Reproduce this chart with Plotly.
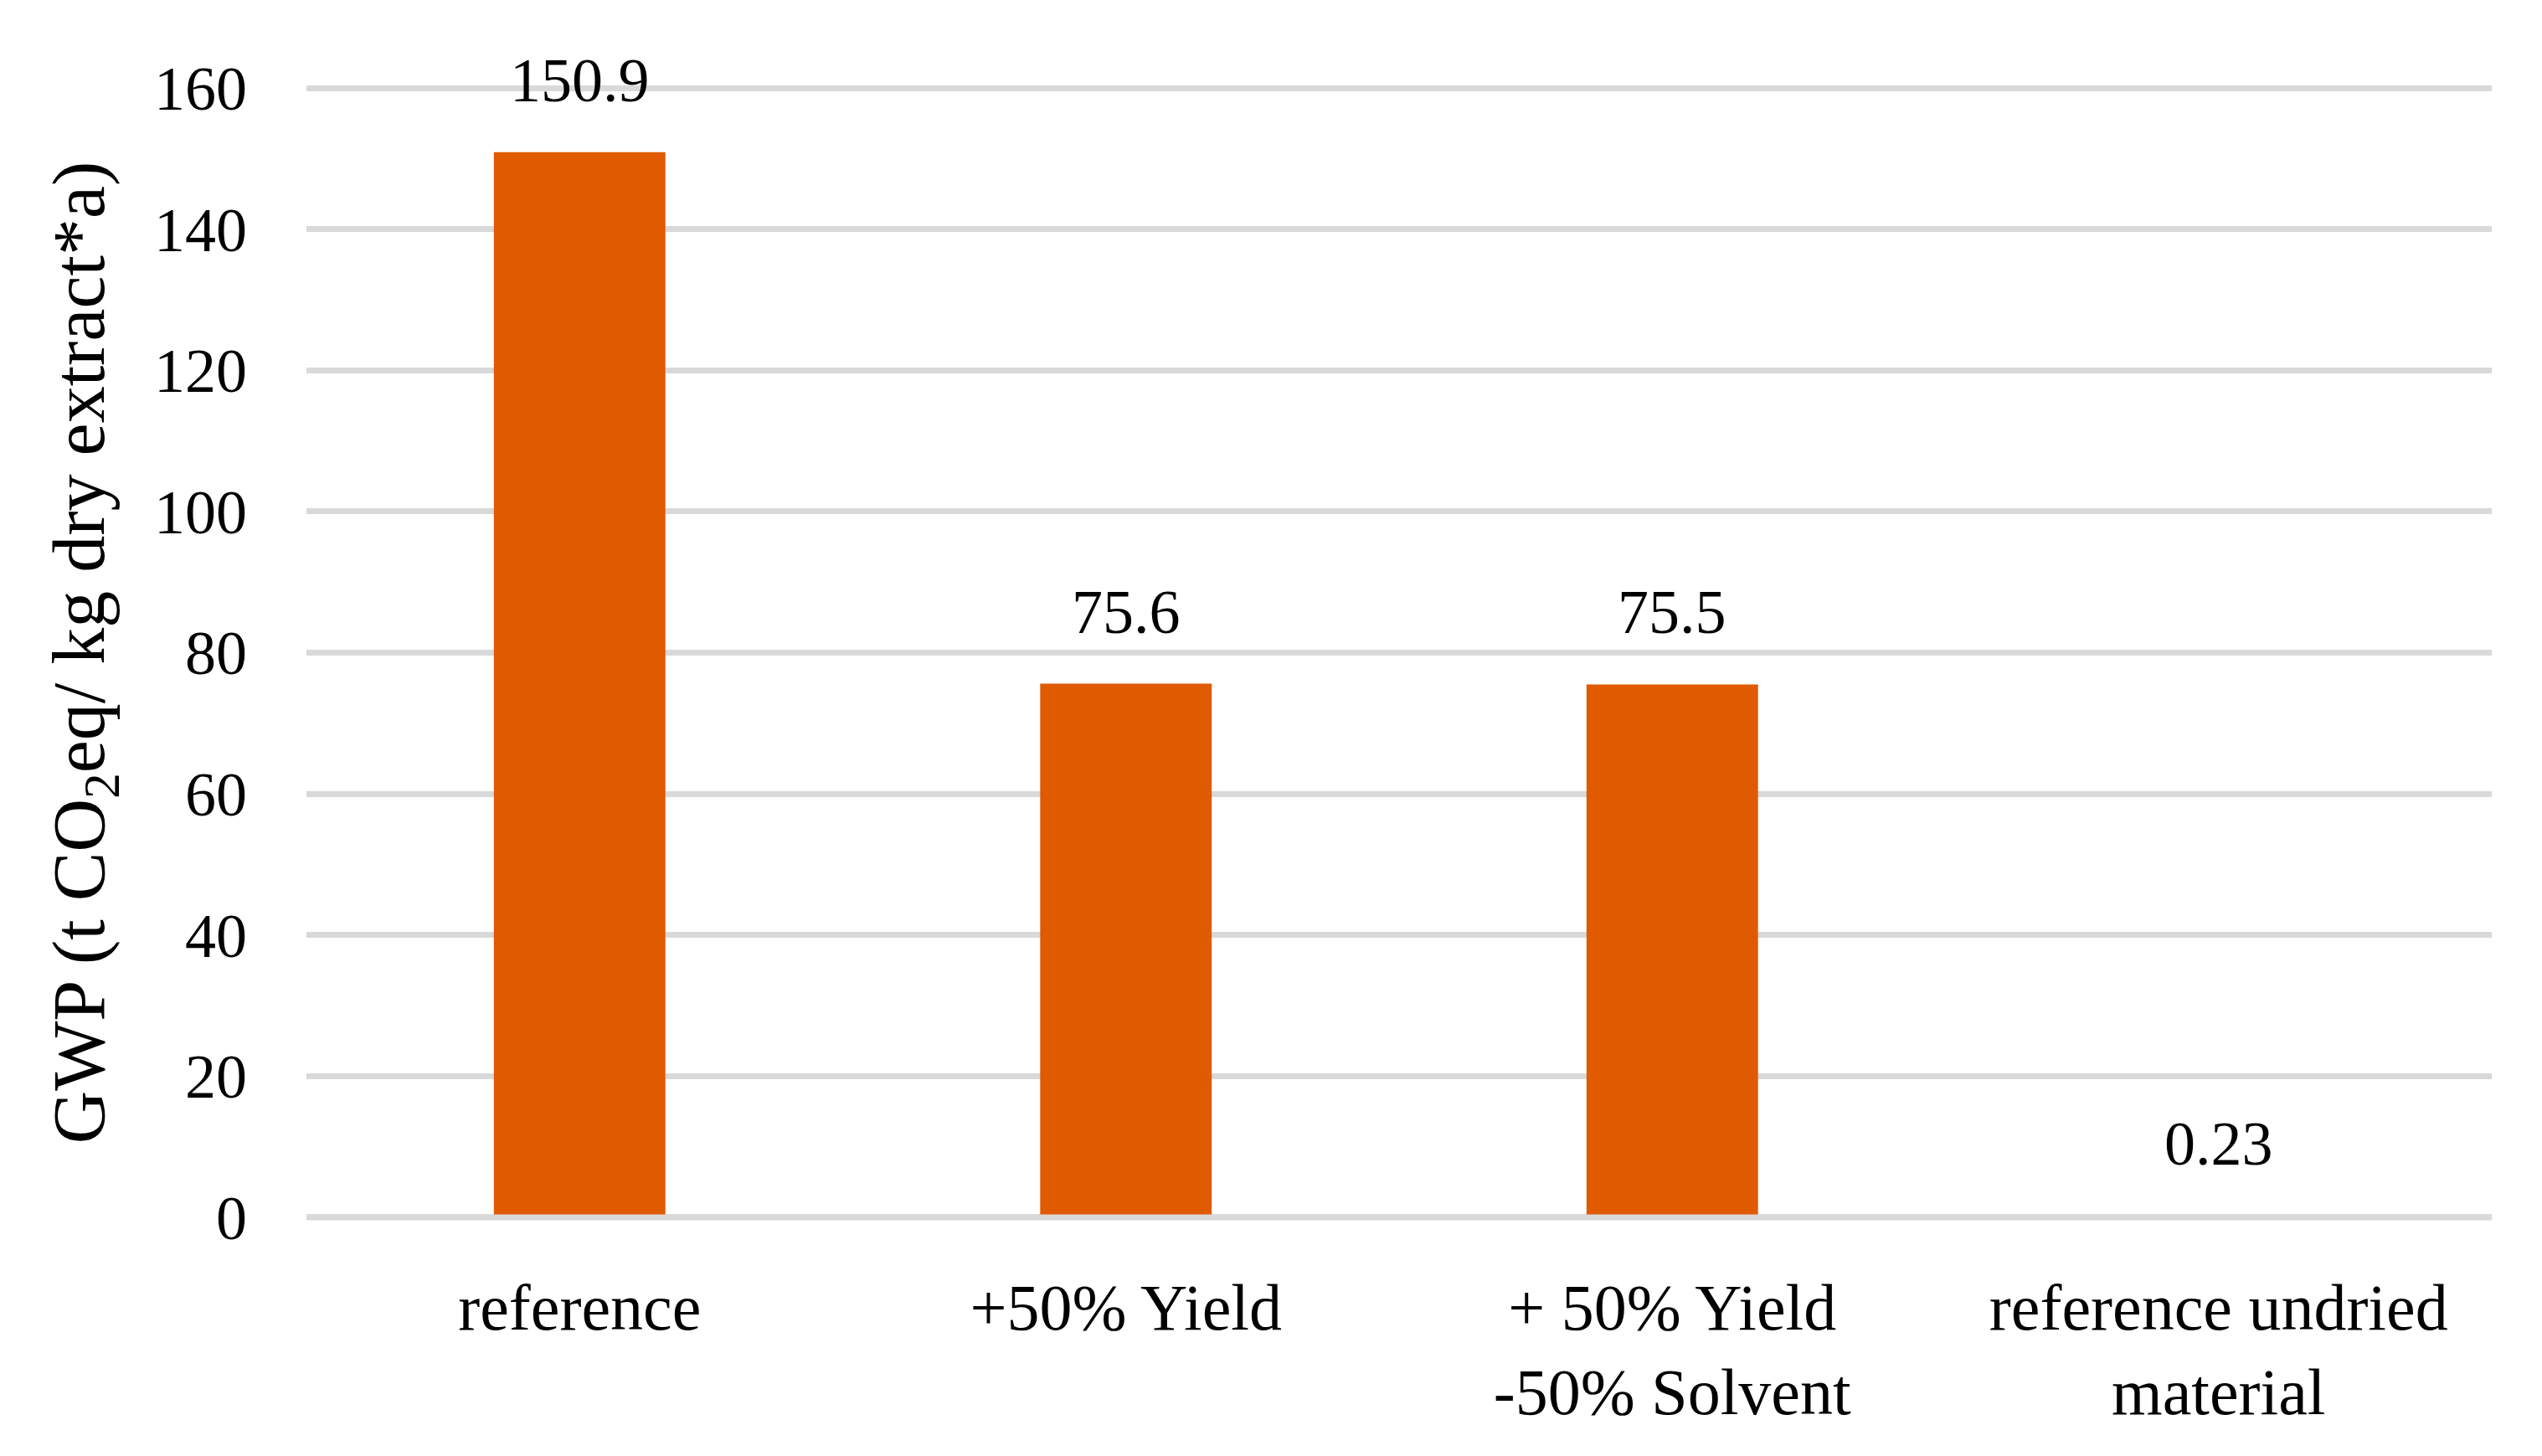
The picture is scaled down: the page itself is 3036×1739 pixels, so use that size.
import plotly.graph_objects as go

categories = ["reference", "+50% Yield", "+ 50% Yield<br>-50% Solvent", "reference undried<br>material"]
values = [150.9, 75.6, 75.5, 0.23]
value_labels = ["150.9", "75.6", "75.5", "0.23"]
y_ticks = [0, 20, 40, 60, 80, 100, 120, 140, 160]

FONT = "Liberation Serif"
FS = 74
XFS = 78
TFS = 88
BAR_COLOR = "#E05A00"
GRID = "#D9D9D9"

fig = go.Figure()
fig.add_trace(go.Bar(
    x=categories, y=values,
    marker=dict(color=BAR_COLOR, line=dict(width=0)),
    hoverinfo="skip",
))

for c, v, t in zip(categories, values, value_labels):
    fig.add_annotation(
        x=c, y=v, text=t, showarrow=False,
        yanchor="middle", yshift=86,
        font=dict(family=FONT, size=FS, color="black"),
    )

# baseline gridline drawn over the bars' bottom edge
fig.add_shape(type="line", xref="paper", x0=0, x1=1, yref="y", y0=0, y1=0,
              line=dict(color=GRID, width=7), layer="above")

fig.update_layout(
    width=3036, height=1739,
    margin=dict(l=358, r=68, t=92, b=288),
    paper_bgcolor="white", plot_bgcolor="white",
    showlegend=False,
    bargap=0.686,
    font=dict(family=FONT, size=FS, color="black"),
    xaxis=dict(
        showgrid=False, showline=False, zeroline=False,
        tickfont=dict(family=FONT, size=XFS, color="black"),
        ticklabelstandoff=50,
    ),
    yaxis=dict(
        range=[-0.6, 160.6], tickvals=y_ticks, ticktext=[str(t) for t in y_ticks],
        showgrid=True, gridcolor=GRID, gridwidth=7,
        zeroline=False,
        showline=False,
        tickfont=dict(family=FONT, size=FS, color="black"),
        ticklabelstandoff=70,
        title=dict(text="GWP (t CO<sub>2</sub>eq/ kg dry extract*a)",
                   font=dict(family=FONT, size=TFS, color="black"),
                   standoff=30),
    ),
)

fig.write_html("out.html")
